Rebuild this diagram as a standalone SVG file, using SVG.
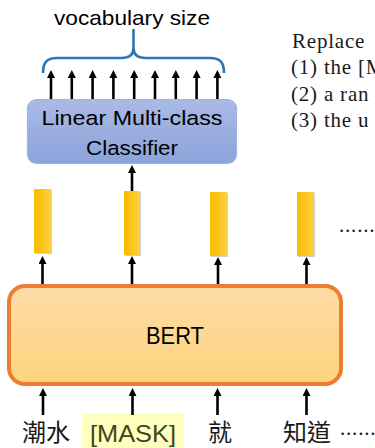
<svg xmlns="http://www.w3.org/2000/svg" width="375" height="448" viewBox="0 0 375 448">
  <defs>
    <linearGradient id="gClassifier" x1="0" y1="0" x2="0" y2="1">
      <stop offset="0" stop-color="#aabae4"/>
      <stop offset="1" stop-color="#8ba4db"/>
    </linearGradient>
    <linearGradient id="gBert" x1="0" y1="0" x2="0" y2="1">
      <stop offset="0" stop-color="#fddba6"/>
      <stop offset="1" stop-color="#fed47d"/>
    </linearGradient>
    <linearGradient id="gBar" x1="0" y1="0" x2="1" y2="0">
      <stop offset="0" stop-color="#f7bc00"/>
      <stop offset="1" stop-color="#ffd03c"/>
    </linearGradient>
    <marker id="arrow" viewBox="0 0 8 8" refX="3" refY="4" markerWidth="8" markerHeight="8" markerUnits="userSpaceOnUse" orient="auto">
      <path d="M0,0 L8,4 L0,8 z" fill="#000"/>
    </marker>
    <style>
      .sans { font-family: "Liberation Sans", Arial, sans-serif; fill: #000; }
      .serif { font-family: "Liberation Serif", "Times New Roman", serif; fill: #1a1a1a; font-size: 21px; letter-spacing: 0.8px; }
      .cjk { font-family: "Noto Sans CJK TC", "Noto Sans CJK SC", sans-serif; font-size: 24px; fill: #1a1a1a; }
      .arr { stroke: #000; stroke-width: 2.6; fill: none; marker-end: url(#arrow); }
      .bar { fill: url(#gBar); }
      .barShadow { fill: #9a9a9a; opacity: 0.45; }
    </style>
  </defs>

  <!-- side note text (runs past the right edge) -->
  <g id="note">
    <text class="serif" x="292" y="47.5">Replace</text>
    <text class="serif" x="291" y="74">(1) the [M</text>
    <text class="serif" x="291" y="100.7">(2) a ran</text>
    <text class="serif" x="291" y="127.3">(3) the u</text>
  </g>

  <!-- output size label with brace -->
  <g id="vocab">
    <text class="sans" x="132" y="25" font-size="21" text-anchor="middle" textLength="156" lengthAdjust="spacingAndGlyphs">vocabulary size</text>
    <path d="M43,73 C43,62 47,58 57,58 L121,58 C129,58 133.5,55 133.5,48 L133.5,29 M133.5,48 C133.5,55 138,58 146,58 L210,58 C220,58 224,62 224,73" fill="none" stroke="#2e75b6" stroke-width="2.6"/>
  </g>

  <!-- classifier -->
  <g id="classifier">
    <rect x="27.5" y="99.5" width="209" height="64" rx="9" fill="url(#gClassifier)" stroke="#9cb3e3" stroke-width="1.2"/>
    <text class="sans" x="132" y="125" font-size="20.5" text-anchor="middle" textLength="181" lengthAdjust="spacingAndGlyphs">Linear Multi-class</text>
    <text class="sans" x="132" y="155" font-size="20.5" text-anchor="middle" textLength="92" lengthAdjust="spacingAndGlyphs">Classifier</text>
  </g>

  <!-- contextual embeddings -->
  <g id="emb1">
    <rect class="barShadow" x="35" y="190" width="17" height="64"/>
    <rect class="bar" x="34" y="189" width="17" height="64"/>
  </g>
  <g id="emb2">
    <rect class="barShadow" x="125" y="192" width="16" height="64"/>
    <rect class="bar" x="124" y="191" width="16" height="64"/>
  </g>
  <g id="emb3">
    <rect class="barShadow" x="211" y="193" width="17" height="64"/>
    <rect class="bar" x="210" y="192" width="17" height="64"/>
  </g>
  <g id="emb4">
    <rect class="barShadow" x="298" y="193" width="17" height="64"/>
    <rect class="bar" x="297" y="192" width="17" height="64"/>
  </g>
  <text class="serif" x="339" y="231.5">......</text>

  <!-- BERT encoder -->
  <g id="bert">
    <rect x="9" y="286" width="332" height="98" rx="16" fill="url(#gBert)" stroke="#ed7d31" stroke-width="4"/>
    <text class="sans" x="175" y="344" font-size="24" text-anchor="middle" textLength="58" lengthAdjust="spacingAndGlyphs">BERT</text>
  </g>

  <!-- input tokens -->
  <g id="tok1">
    <text class="cjk" x="46" y="441" text-anchor="middle">潮水</text>
  </g>
  <g id="tok2">
    <rect x="82" y="413" width="102" height="35" fill="#ffffbf"/>
    <text class="sans" x="133" y="442" font-size="24" text-anchor="middle" textLength="86" lengthAdjust="spacingAndGlyphs" style="fill:#45451c">[MASK]</text>
  </g>
  <g id="tok3">
    <text class="cjk" x="220" y="441" text-anchor="middle">就</text>
  </g>
  <g id="tok4">
    <text class="cjk" x="307" y="441" text-anchor="middle">知道</text>
  </g>
  <text class="serif" x="340" y="434.5">......</text>

  <!-- connectors -->
  <g id="connectors">
    <line class="arr" x1="51" y1="99" x2="51" y2="75"/>
    <line class="arr" x1="71.8" y1="99" x2="71.8" y2="75"/>
    <line class="arr" x1="92.6" y1="99" x2="92.6" y2="75"/>
    <line class="arr" x1="113.4" y1="99" x2="113.4" y2="75"/>
    <line class="arr" x1="134.2" y1="99" x2="134.2" y2="75"/>
    <line class="arr" x1="155" y1="99" x2="155" y2="75"/>
    <line class="arr" x1="175.8" y1="99" x2="175.8" y2="75"/>
    <line class="arr" x1="196.6" y1="99" x2="196.6" y2="75"/>
    <line class="arr" x1="217.4" y1="99" x2="217.4" y2="75"/>

    <line class="arr" x1="132" y1="191" x2="132" y2="170"/>

    <line class="arr" x1="42.5" y1="284" x2="42.5" y2="261"/>
    <line class="arr" x1="132" y1="284" x2="132" y2="261"/>
    <line class="arr" x1="218" y1="284" x2="218" y2="262"/>
    <line class="arr" x1="306.5" y1="284" x2="306.5" y2="262"/>

    <line class="arr" x1="43" y1="415" x2="43" y2="393"/>
    <line class="arr" x1="132.5" y1="415" x2="132.5" y2="393"/>
    <line class="arr" x1="217.5" y1="415" x2="217.5" y2="393"/>
    <line class="arr" x1="306.5" y1="415" x2="306.5" y2="393"/>
  </g>
</svg>
